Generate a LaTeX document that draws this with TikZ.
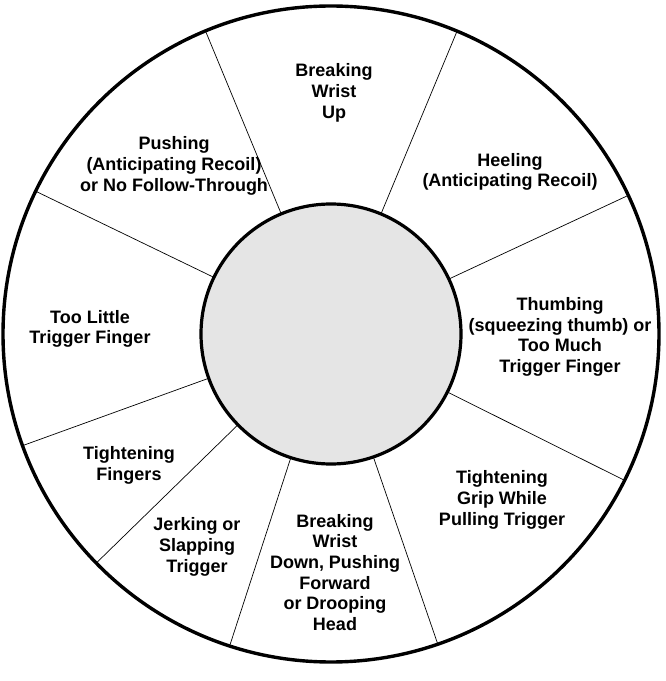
\documentclass[tikz,border=0pt]{standalone}
\usepackage{fontspec}
\setmainfont{Liberation Sans}
\usetikzlibrary{calc}
\definecolor{hubfill}{RGB}{229,229,229}
\begin{document}
\begin{tikzpicture}[x=1pt,y=1pt,
  rim/.style={line width=3.4pt},
  hub/.style={line width=3.2pt, fill=hubfill},
  spoke/.style={line width=0.7pt},
  lbl/.style={align=center, inner sep=0pt, font=\bfseries\fontsize{18}{20.7}\selectfont}]
\useasboundingbox (0,0) rectangle (665,681);
\coordinate (c) at (331,347);
\fill[white] (0,0) rectangle (665,681);
\draw[rim] (c) circle (328);
\foreach \a in {112.5,67.4,25,-26.5,-71,-108,-135.7,-160.1,154.2}
  \draw[spoke] ($(c)+(\a:129)$) -- ($(c)+(\a:327)$);
\draw[hub] (c) circle (130);
\node[lbl] (t1) at (334,588) {Breaking\\Wrist\\Up};
\node[lbl] (t2) at (174,515) {Pushing\\(Anticipating Recoil)\\or No Follow-Through};
\node[lbl] (t3) at (510,509) {Heeling\\(Anticipating Recoil)};
\node[lbl] (t4) at (560,344) {Thumbing\\(squeezing thumb) or\\Too Much\\Trigger Finger};
\node[lbl] (t5) at (502,181) {Tightening\\Grip While\\Pulling Trigger};
\node[lbl] (t6) at (335,108.5) {Breaking\\Wrist\\Down, Pushing\\Forward\\or Drooping\\Head};
\node[lbl] (t7) at (197,134) {Jerking or\\Slapping\\Trigger};
\node[lbl] (t8) at (129,215.5) {Tightening\\Fingers};
\node[lbl] (t9) at (90,352) {Too Little\\Trigger Finger};
\end{tikzpicture}
\end{document}
